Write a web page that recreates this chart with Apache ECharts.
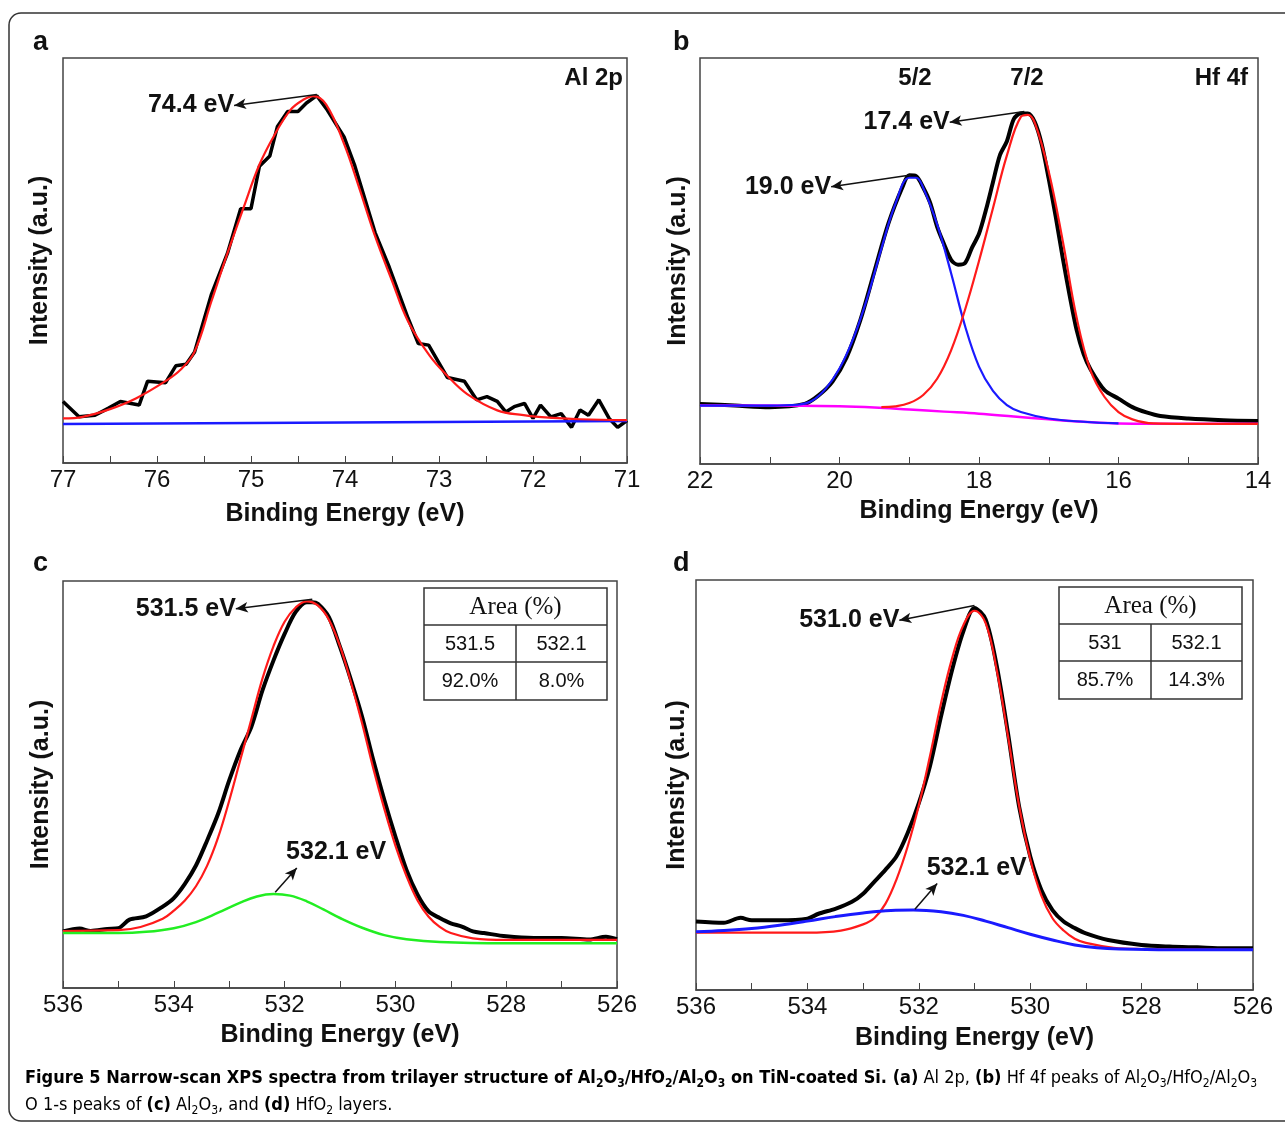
<!DOCTYPE html>
<html lang="en">
<head>
  <meta charset="UTF-8">
  <title>XPS narrow scans</title>
  <style>
    * { margin: 0; padding: 0; }
    body { background: #ffffff; }
    #main { width: 1285px; height: 1123px; }
  </style>
</head>
<body>
  <div id="main"></div>
  <script src="https://cdn.jsdelivr.net/npm/echarts@6/dist/echarts.min.js"></script>
  <script type="text/javascript">
  // (a) Al 2p
  var aMeasured = [[77.0,15.2],[76.83,11.4],[76.66,11.8],[76.52,13.5],[76.39,15.2],[76.19,14.3],[76.10,20.2],[75.91,19.8],[75.80,24.0],[75.69,24.4],[75.60,27.4],[75.42,41.7],[75.25,51.8],[75.11,62.8],[75.00,62.8],[74.91,73.3],[74.80,75.8],[74.72,83.0],[74.61,86.8],[74.50,86.8],[74.41,88.9],[74.30,90.7],[74.19,87.2],[74.01,80.5],[73.90,73.7],[73.79,65.3],[73.68,56.9],[73.53,48.4],[73.33,35.8],[73.22,29.5],[73.11,29.1],[72.91,21.1],[72.73,20.2],[72.60,15.6],[72.49,16.4],[72.38,15.2],[72.29,12.6],[72.20,13.9],[72.09,14.7],[72.00,11.0],[71.92,14.3],[71.81,11.4],[71.70,12.2],[71.59,8.8],[71.50,13.1],[71.41,11.8],[71.30,15.6],[71.19,11.0],[71.10,8.8],[71.00,10.5]];
  var aFit = [[77.0,11.0],[76.79,11.4],[76.5,13.3],[76.22,16],[75.91,20.2],[75.75,23],[75.60,27.5],[75.42,40],[75.25,51.8],[75.08,63],[74.91,73.7],[74.75,81],[74.58,87.2],[74.45,89.6],[74.34,90.6],[74.2,88.5],[74.01,78.8],[73.85,68],[73.68,56],[73.5,45],[73.33,35],[73.1,26.5],[72.91,21.5],[72.7,17],[72.38,13],[72.1,11.8],[71.94,11.4],[71.5,10.8],[71.0,10.6]];
  var aBackground = [[77.0,9.6],[71.0,10.4]];

  // (b) Hf 4f
  var bMeasured = [[22.0,14.8],[21.5,14.4],[21.0,14.0],[20.5,14.8],[20.3,16.9],[20.1,20.3],[19.9,26.2],[19.7,35.5],[19.5,47.4],[19.3,59.2],[19.1,68.1],[19.0,71.1],[18.9,70.9],[18.8,68.1],[18.7,64.3],[18.6,58.4],[18.5,54.1],[18.4,50.3],[18.3,49.1],[18.2,49.5],[18.1,53.3],[18.0,56.7],[17.9,62.6],[17.8,69.4],[17.7,76.1],[17.6,79.5],[17.5,85.0],[17.4,86.3],[17.3,86.3],[17.2,84.2],[17.1,78.7],[17.0,70.2],[16.9,60.9],[16.8,50.8],[16.7,41.5],[16.6,33.0],[16.5,27.1],[16.4,23.3],[16.2,18.2],[16.0,16.1],[15.8,14.0],[15.6,12.7],[15.4,11.8],[15.0,11.2],[14.5,10.8],[14.0,10.6]];
  var bFit52 = [[22.0,14.4],[21.0,14.4],[20.6,14.6],[20.4,15.5],[20.2,18.5],[20.0,23.5],[19.8,31],[19.6,41],[19.4,53],[19.2,64],[19.0,70.5],[18.9,70.5],[18.8,68],[18.6,59],[18.4,47],[18.2,34],[18.0,24],[17.8,18],[17.6,14.5],[17.4,12.8],[17.0,11.2],[16.5,10.4],[16.0,10.0]];
  var bFit72 = [[19.4,14.0],[19.2,14.2],[19.0,15.0],[18.8,17.0],[18.6,21],[18.4,28],[18.2,38],[18.0,50],[17.8,63],[17.6,76],[17.4,85.5],[17.3,86],[17.2,84],[17.0,72],[16.8,55],[16.6,36],[16.4,23],[16.2,16.5],[16.0,12.8],[15.8,11],[15.5,10],[15.0,9.9],[14.0,9.9]];
  var bBackground = [[22,14.4],[21,14.4],[20,14.2],[19.5,13.9],[19,13.4],[18.5,12.9],[18,12.4],[17.5,11.7],[17,11.0],[16.5,10.4],[16,10.0],[15,9.9],[14,9.9]];

  // (c) O 1s, Al2O3
  var cMeasured = [[536.0,13.9],[535.7,14.6],[535.5,14.0],[535.2,14.5],[535.0,14.7],[534.8,16.8],[534.5,17.6],[534.2,20.0],[534.0,22.1],[533.8,25.6],[533.6,30.1],[533.4,36.2],[533.2,42.8],[533.0,51.0],[532.8,58.3],[532.6,64.2],[532.4,73.1],[532.2,80.5],[532.0,87.0],[531.8,92.4],[531.6,94.8],[531.5,94.8],[531.4,94.4],[531.2,91.1],[531.0,83.8],[530.8,75.6],[530.6,66.6],[530.4,56.0],[530.2,46.2],[530.0,37.2],[529.8,29.0],[529.6,22.9],[529.4,18.8],[529.2,17.2],[529.0,15.9],[528.8,15.1],[528.6,13.9],[528.4,13.5],[528.0,12.7],[527.5,12.3],[527.0,12.3],[526.5,11.9],[526.2,12.6],[526.0,12.0]];
  var cFitMain = [[536.0,14.0],[535.0,14.2],[534.6,15],[534.2,17],[534.0,19],[533.8,21.5],[533.6,25],[533.4,30],[533.2,37],[533.0,46],[532.8,56],[532.6,66],[532.4,76],[532.2,84],[532.0,90],[531.8,93.5],[531.6,95],[531.4,94],[531.2,90.5],[531.0,84],[530.8,75],[530.6,65],[530.4,54],[530.2,44],[530.0,35],[529.8,27.5],[529.6,21.5],[529.4,17.5],[529.2,15],[529.0,13.5],[528.6,12.2],[528.0,11.8],[526.0,11.8]];
  var cFitMinor = [[536.0,13.5],[535.0,13.5],[534.5,13.8],[534.0,14.7],[533.6,16.2],[533.2,18.5],[532.8,21.0],[532.5,22.5],[532.2,23.1],[531.9,22.7],[531.6,21.3],[531.3,19.3],[531.0,17.2],[530.6,14.8],[530.2,13.0],[529.8,12.0],[529.2,11.3],[528.0,11.0],[526.0,11.0]];

  // (d) O 1s, HfO2
  var dMeasured = [[536.0,16.7],[535.5,16.4],[535.2,17.6],[535.0,17.0],[534.5,17.0],[534.0,17.4],[533.8,18.6],[533.5,19.8],[533.2,21.5],[533.0,23.5],[532.8,26.4],[532.6,29.3],[532.4,32.6],[532.2,38.3],[532.0,45.6],[531.8,54.6],[531.6,66.8],[531.4,78.2],[531.2,87.5],[531.0,93.2],[530.8,90.4],[530.6,79.0],[530.4,62.7],[530.2,44.8],[530.0,32.6],[529.8,24.4],[529.6,19.5],[529.4,16.7],[529.2,15.1],[529.0,13.8],[528.6,12.2],[528.0,11.0],[527.5,10.6],[527.0,10.4],[526.5,10.2],[526.0,10.2]];
  var dFitMain = [[536.0,14.0],[534.0,14.0],[533.4,14.5],[533.0,16.0],[532.8,17.5],[532.6,21],[532.4,27],[532.2,35],[532.0,45],[531.8,57],[531.6,70],[531.4,81],[531.2,89],[531.0,92.5],[530.8,89.5],[530.6,78],[530.4,62],[530.2,45],[530.0,32],[529.8,23],[529.6,17.5],[529.4,14.5],[529.2,12.5],[529.0,11.5],[528.5,10.3],[528.0,10.0],[526.0,9.8]];
  var dFitMinor = [[536.0,14.2],[535.5,14.5],[535.0,15.0],[534.5,15.8],[534.0,16.8],[533.5,17.9],[533.0,18.8],[532.5,19.4],[532.1,19.5],[531.6,19.1],[531.2,18.2],[530.8,16.8],[530.4,15.2],[530.0,13.6],[529.6,12.2],[529.2,11.0],[528.8,10.3],[528.4,10.0],[527.5,9.8],[526.0,9.8]];

  var xRanges = [[71, 77, 1, 2], [14, 22, 2, 2], [526, 536, 2, 2], [526, 536, 2, 2]];
  var tableC = [['531.5', '532.1'], ['92.0%', '8.0%']];
  var tableD = [['531', '532.1'], ['85.7%', '14.3%']];

  var grids = [
    { left: 63, top: 58, width: 564, height: 405 },
    { left: 700, top: 58, width: 558, height: 406 },
    { left: 63, top: 581, width: 554, height: 407 },
    { left: 696, top: 580, width: 557, height: 410 }
  ];
  var yNameGap = [10, 9, 9, 6];
  var xNameGap = [39, 35, 35, 36];

  function main () {
    var chart = echarts.init(document.getElementById('main'));
    var sans = 'Liberation Sans, Arial, sans-serif';

    var xAxes = xRanges.map(function (r, i) {
      return {
        type: 'value', gridIndex: i, min: r[0], max: r[1], interval: r[2], inverse: true,
        name: 'Binding Energy (eV)', nameLocation: 'middle', nameGap: xNameGap[i],
        nameTextStyle: { fontFamily: sans, fontWeight: 'bold', fontSize: 25, color: '#111' },
        axisLine: { show: true, lineStyle: { color: '#444', width: 1.5 } },
        axisTick: { inside: true, length: 7, lineStyle: { color: '#444' } },
        minorTick: { show: true, splitNumber: r[3], length: 7, lineStyle: { color: '#444' } },
        axisLabel: { fontFamily: sans, fontSize: 24, color: '#111', margin: 5 },
        splitLine: { show: false }
      };
    });
    var yAxes = grids.map(function (g, i) {
      return {
        type: 'value', gridIndex: i, min: 0, max: 100,
        name: 'Intensity (a.u.)', nameLocation: 'middle', nameGap: yNameGap[i], nameRotate: 90,
        nameTextStyle: { fontFamily: sans, fontWeight: 'bold', fontSize: 25, color: '#111' },
        axisLine: { show: false }, axisTick: { show: false }, axisLabel: { show: false },
        splitLine: { show: false }
      };
    });

    function line (idx, data, color, width, smooth, z) {
      return {
        type: 'line', xAxisIndex: idx, yAxisIndex: idx, data: data, showSymbol: false,
        smooth: smooth, z: z || 2, lineStyle: { color: color, width: width }
      };
    }
    function arrows (list) {
      return {
        silent: true, symbol: ['none', 'arrow'], symbolSize: [8, 12],
        lineStyle: { color: '#111', width: 1.5, type: 'solid' }, label: { show: false },
        data: list.map(function (a) { return [{ coord: a[0] }, { coord: a[1] }]; })
      };
    }
    function notes (list) {
      return {
        silent: true, symbol: 'circle', symbolSize: 0,
        label: { show: true, fontFamily: sans, fontWeight: 'bold', fontSize: 25, color: '#111',
                 formatter: function (p) { return p.name; } },
        data: list.map(function (n) {
          return { name: n[0], coord: n[1], label: { position: n[2], distance: n[3] } };
        })
      };
    }

    var sA = line(0, aMeasured, '#000', 3.5, false, 2);
    sA.markLine = arrows([[[74.3, 91], [75.18, 88.3]]]);
    sA.markPoint = notes([['74.4 eV', [75.18, 88.3], 'left', 0]]);
    var sB = line(1, bMeasured, '#000', 4, 0.3, 2);
    sB.markLine = arrows([[[17.35, 86.8], [18.42, 84.2]], [[18.98, 71.2], [20.12, 68.3]]]);
    sB.markPoint = notes([['17.4 eV', [18.42, 84.2], 'left', 0], ['19.0 eV', [20.12, 68.3], 'left', 0]]);
    var sC = line(2, cMeasured, '#000', 4, 0.3, 2);
    sC.markLine = arrows([[[531.5, 95.5], [532.88, 93.2]], [[532.17, 23.5], [531.78, 29.5]]]);
    sC.markPoint = notes([['531.5 eV', [532.88, 93.2], 'left', 0], ['532.1 eV', [531.07, 29.5], 'top', 3]]);
    var sD = line(3, dMeasured, '#000', 4, 0.3, 2);
    sD.markLine = arrows([[[531.0, 93.8], [532.35, 90.2]], [[532.07, 19.7], [531.67, 26.0]]]);
    sD.markPoint = notes([['531.0 eV', [532.35, 90.2], 'left', 0], ['532.1 eV', [530.96, 26.0], 'top', 3]]);

    var series = [
      sA,
      line(0, aBackground, '#1a1aff', 2.5, false, 3),
      line(0, aFit, '#ff1a1a', 2.2, 0.4, 4),
      sB,
      line(1, bBackground, '#ff00ff', 2.5, 0.4, 3),
      line(1, bFit52, '#1a1aff', 2.2, 0.4, 4),
      line(1, bFit72, '#ff1a1a', 2.2, 0.4, 4),
      sC,
      line(2, cFitMain, '#ff1a1a', 2.2, 0.4, 4),
      line(2, cFitMinor, '#22ee22', 2.5, 0.4, 4),
      sD,
      line(3, dFitMain, '#ff1a1a', 2.2, 0.4, 4),
      line(3, dFitMinor, '#1a1aff', 3, 0.4, 4)
    ];

    function table (x, y, rows) {
      var w = 183, h = 112, colX = 92, rowH = [37, 37, 38];
      var kids = [
        { type: 'rect', shape: { x: 0, y: 0, width: w, height: h }, style: { fill: '#fff', stroke: '#333', lineWidth: 1.5 } },
        { type: 'line', shape: { x1: 0, y1: rowH[0], x2: w, y2: rowH[0] }, style: { stroke: '#333', lineWidth: 1.5 } },
        { type: 'line', shape: { x1: 0, y1: rowH[0] + rowH[1], x2: w, y2: rowH[0] + rowH[1] }, style: { stroke: '#333', lineWidth: 1.5 } },
        { type: 'line', shape: { x1: colX, y1: rowH[0], x2: colX, y2: h }, style: { stroke: '#333', lineWidth: 1.5 } },
        { type: 'text', x: w / 2, y: rowH[0] / 2 + 1, style: { text: 'Area (%)', font: '25px Liberation Serif, serif', fill: '#111', align: 'center', verticalAlign: 'middle' } }
      ];
      rows.forEach(function (r, ri) {
        r.forEach(function (cell, ci) {
          kids.push({ type: 'text', x: ci === 0 ? colX / 2 : colX + (w - colX) / 2,
            y: rowH[0] + rowH[1] * ri + rowH[1] / 2 + 1,
            style: { text: cell, font: '20px ' + sans, fill: '#111', align: 'center', verticalAlign: 'middle' } });
        });
      });
      return { type: 'group', x: x, y: y, children: kids };
    }
    function label (text, x, y, size, align) {
      return { type: 'text', x: x, y: y, style: { text: text, font: 'bold ' + size + 'px ' + sans, fill: '#111', align: align || 'left', verticalAlign: 'middle' } };
    }

    var capFont = 'Liberation Sans Narrow, DejaVu Sans Condensed, Open Sans, sans-serif';
    var capRich = {
      b: { fontFamily: capFont, fontWeight: 'bold', fontSize: 18, color: '#222', lineHeight: 24 },
      bs: { fontFamily: capFont, fontWeight: 'bold', fontSize: 12, color: '#222', lineHeight: 12, verticalAlign: 'bottom' },
      n: { fontFamily: capFont, fontSize: 18, color: '#444', lineHeight: 24 },
      s: { fontFamily: capFont, fontSize: 12, color: '#444', lineHeight: 12, verticalAlign: 'bottom' }
    };
    var cap1 = '{b|Figure 5 Narrow-scan XPS spectra from trilayer structure of Al}{bs|2}{b|O}{bs|3}{b|/HfO}{bs|2}{b|/Al}{bs|2}{b|O}{bs|3}{b| on TiN-coated Si. (a)}{n| Al 2p, }{b|(b)}{n| Hf 4f peaks of Al}{s|2}{n|O}{s|3}{n|/HfO}{s|2}{n|/Al}{s|2}{n|O}{s|3}';
    var cap2 = '{n|O 1-s peaks of }{b|(c)}{n| Al}{s|2}{n|O}{s|3}{n|, and }{b|(d)}{n| HfO}{s|2}{n| layers.}';

    var graphics = [
      { type: 'rect', silent: true, shape: { x: 9, y: 13, width: 1310, height: 1108, r: 12 }, style: { fill: 'none', stroke: '#333', lineWidth: 1.5 } },
      label('a', 33, 43, 27), label('b', 673, 43, 27), label('c', 33, 564, 27), label('d', 673, 564, 27),
      label('Al 2p', 623, 78, 24, 'right'),
      label('5/2', 915, 78, 24, 'center'), label('7/2', 1027, 78, 24, 'center'),
      label('Hf 4f', 1248, 78, 24, 'right'),
      table(424, 588, tableC),
      table(1059, 587, tableD),
      { type: 'text', x: 25, y: 1078, style: { text: cap1, rich: capRich, verticalAlign: 'middle' } },
      { type: 'text', x: 25, y: 1105, style: { text: cap2, rich: capRich, verticalAlign: 'middle' } }
    ];

    chart.setOption({
      animation: false,
      backgroundColor: '#ffffff',
      grid: grids.map(function (g) {
        return Object.assign({ show: true, borderColor: '#444', borderWidth: 1.5, backgroundColor: 'transparent', containLabel: false }, g);
      }),
      xAxis: xAxes,
      yAxis: yAxes,
      series: series,
      graphic: graphics
    });
  }

  window.addEventListener('load', main);
  </script>
</body>
</html>
